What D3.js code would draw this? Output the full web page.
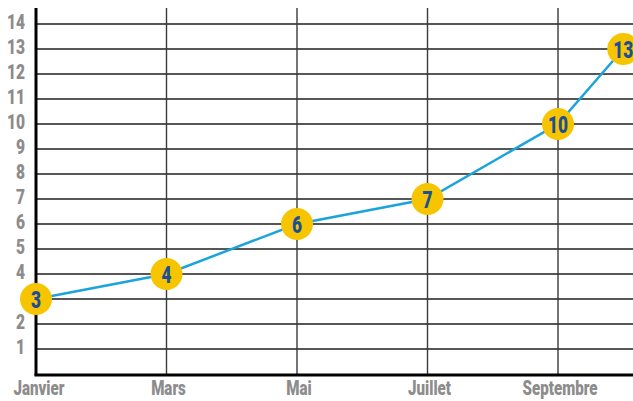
<!DOCTYPE html>
<html>
<head>
<meta charset="utf-8">
<script src="https://cdn.jsdelivr.net/npm/d3@7"></script>
<style>
  body { margin: 0; background: #fff; overflow: hidden; }
  text { font-family: "Roboto", "Liberation Sans", sans-serif; font-weight: 900; }
</style>
</head>
<body>
<div id="chart"></div>
<script>
// DATA
const months = ["Janvier", "Février", "Mars", "Avril", "Mai", "Juin", "Juillet", "Août", "Septembre", "Octobre"];
const tickMonths = ["Janvier", "Mars", "Mai", "Juillet", "Septembre"];
const pointMonths = ["Janvier", "Mars", "Mai", "Juillet", "Septembre", "Octobre"];
const pointValues = [3, 4, 6, 7, 10, 13];
const yTicks = [1, 2, 3, 4, 5, 6, 7, 8, 9, 10, 11, 12, 13, 14];
// the "3" label sits under the first point in the original
const yLabels = [1, 2, 4, 5, 6, 7, 8, 9, 10, 11, 12, 13, 14];

const width = 633, height = 401;
const plotLeft = 36, plotBottom = 374, plotTop = 8;

const svg = d3.select("#chart")
  .append('svg')
  .attr('width', width)
  .attr('height', height);

const xScale = d3.scaleLinear()
  .domain([0, 2])
  .range([plotLeft, plotLeft + 130.5]);

const x = m => xScale(months.indexOf(m));

const yScale = d3.scaleLinear()
  .domain([0, 14])
  .range([plotBottom, plotBottom - 14 * 25]);

// horizontal grid
svg.append('g')
  .selectAll('line')
  .data(yTicks)
  .enter()
  .append('line')
  .attr('x1', plotLeft)
  .attr('x2', width)
  .attr('y1', d => yScale(d))
  .attr('y2', d => yScale(d))
  .attr('stroke', '#1e1e1e')
  .attr('stroke-width', 1.4);

// vertical grid
svg.append('g')
  .selectAll('line')
  .data(tickMonths.slice(1))
  .enter()
  .append('line')
  .attr('x1', d => x(d))
  .attr('x2', d => x(d))
  .attr('y1', plotTop)
  .attr('y2', plotBottom)
  .attr('stroke', '#3a3a3a')
  .attr('stroke-width', 1.4);

// axes lines
svg.append('line')
  .attr('x1', plotLeft).attr('x2', plotLeft)
  .attr('y1', plotTop).attr('y2', plotBottom + 1.5)
  .attr('stroke', '#000').attr('stroke-width', 3);

svg.append('line')
  .attr('x1', plotLeft - 1.5).attr('x2', width)
  .attr('y1', plotBottom + 1).attr('y2', plotBottom + 1)
  .attr('stroke', '#000').attr('stroke-width', 3);

// y labels
svg.append('g')
  .selectAll('text')
  .data(yLabels)
  .enter()
  .append('text')
  .attr('transform', d => `translate(25, ${yScale(d) + 4.5}) scale(0.78, 1)`)
  .attr('text-anchor', 'end')
  .attr('font-size', 20)
  .attr('fill', '#8c8c8c')
  .text(d => d);

// x labels
svg.append('g')
  .selectAll('text')
  .data(tickMonths)
  .enter()
  .append('text')
  .attr('transform', (d, i) => `translate(${x(d) + (i === 0 ? 3 : 2)}, 395) scale(0.72, 1)`)
  .attr('text-anchor', 'middle')
  .attr('font-size', 21)
  .attr('fill', '#8c8c8c')
  .text(d => d);

// line
const line = d3.line()
  .x((d, i) => x(pointMonths[i]))
  .y(d => yScale(d));

svg.append('path')
  .datum(pointValues)
  .attr('d', line)
  .attr('fill', 'none')
  .attr('stroke', '#1ba3dd')
  .attr('stroke-width', 2.5);

// points
const pts = svg.append('g')
  .selectAll('g')
  .data(pointValues)
  .enter()
  .append('g')
  .attr('transform', (d, i) => `translate(${x(pointMonths[i])}, ${yScale(d)})`);

pts.append('circle')
  .attr('r', 16)
  .attr('fill', '#f7c500');

pts.append('text')
  .attr('text-anchor', 'middle')
  .attr('transform', `translate(0, 8.5) scale(0.72, 1)`)
  .attr('font-size', 24)
  .attr('fill', '#1d4f96')
  .text(d => d);
</script>
</body>
</html>
